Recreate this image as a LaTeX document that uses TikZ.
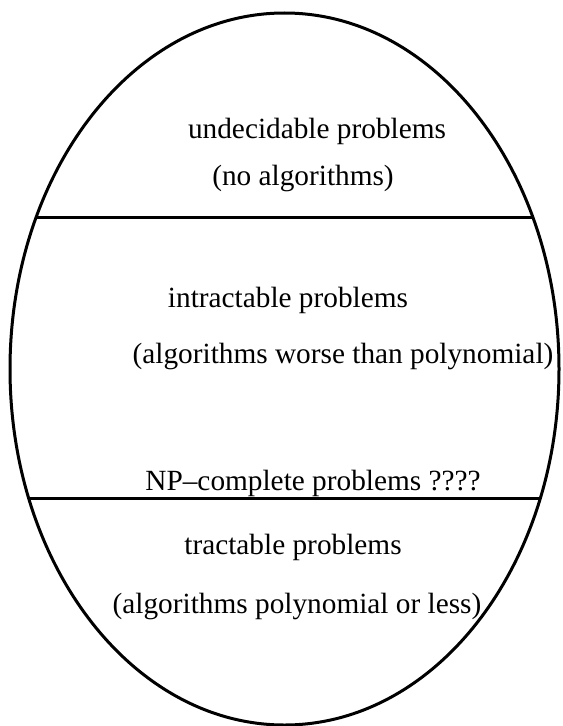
\documentclass[tikz,border=0pt]{standalone}
\usepackage{fontspec}
\setmainfont{Liberation Serif}
\begin{document}
\begin{tikzpicture}[x=1bp,y=-1bp,
  lbl/.style={anchor=base,inner sep=0pt,font=\fontsize{29.3bp}{33bp}\selectfont},
  edge/.style={line width=3bp}]
\useasboundingbox (0,0) rectangle (563,726);
\draw[edge] (284.5,369) ellipse [x radius=274.5, y radius=356];
\coordinate (l1a) at (36.5,217);
\coordinate (l1b) at (532.5,217);
\coordinate (l2a) at (29,498);
\coordinate (l2b) at (540,498);
\draw[edge] (l1a) -- (l1b);
\draw[edge] (l2a) -- (l2b);
\node[lbl] (u1) at (317,139) {undecidable problems};
\node[lbl] (u2) at (303,185) {(no algorithms)};
\node[lbl] (i1) at (288,307) {intractable problems};
\node[lbl] (i2) at (343,363) {(algorithms worse than polynomial)};
\node[lbl] (np) at (313,490) {NP--complete problems ????};
\node[lbl] (t1) at (293,554) {tractable problems};
\node[lbl] (t2) at (297,613) {(algorithms polynomial or less)};
\end{tikzpicture}
\end{document}
